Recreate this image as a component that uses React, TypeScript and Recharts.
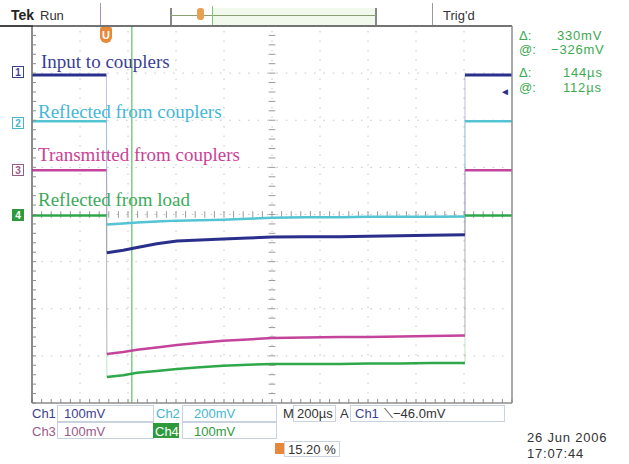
import React from "react";
import { LineChart, Line, XAxis, YAxis, ReferenceLine } from "recharts";

// time in screen divisions (200 µs/div), level in vertical divisions
const stepOn = 1.55;
const stepOff = 9.02;
const cursorT = 2.08;

const lowTimes = [1.56, 1.9, 2.19, 2.6, 3.02, 3.5, 3.98, 4.5, 5.0, 5.7, 6.42, 7.0, 7.67, 8.3, 9.02];

const ch1High = 2.96;
const ch1Low = [-0.81, -0.76, -0.7, -0.62, -0.56, -0.54, -0.52, -0.5, -0.48, -0.47, -0.47, -0.46, -0.45, -0.44, -0.43];
const ch2High = 1.98;
const ch2Low = [-0.21, -0.19, -0.17, -0.15, -0.13, -0.12, -0.11, -0.09, -0.07, -0.06, -0.06, -0.05, -0.05, -0.05, -0.04];
const ch3High = 0.94;
const ch3Low = [-2.96, -2.92, -2.87, -2.82, -2.77, -2.72, -2.68, -2.65, -2.62, -2.61, -2.6, -2.6, -2.59, -2.58, -2.57];
const ch4High = -0.02;
const ch4Low = [-3.45, -3.41, -3.36, -3.32, -3.28, -3.24, -3.21, -3.19, -3.17, -3.17, -3.17, -3.16, -3.16, -3.15, -3.15];

const majorX = [0, 1, 2, 3, 4, 5, 6, 7, 8, 9, 10];
const majorY = [-4, -3, -2, -1, 0, 1, 2, 3, 4];
const minorX = Array.from({ length: 51 }, (_, i) => +(i * 0.2).toFixed(1));
const minorY = Array.from({ length: 41 }, (_, i) => +(-4 + i * 0.2).toFixed(1));

const channels = [
  { id: "ch1", high: ch1High, low: ch1Low, color: "#2b2f8c", width: 3 },
  { id: "ch2", high: ch2High, low: ch2Low, color: "#52c4d4", width: 2.5 },
  { id: "ch3", high: ch3High, low: ch3Low, color: "#c4449c", width: 2.5 },
  { id: "ch4", high: ch4High, low: ch4Low, color: "#2fa84a", width: 2.5 },
];

const SANS = "'Liberation Sans', Arial, sans-serif";
const SERIF = "'Liberation Serif', 'Times New Roman', serif";
const GRID = "#c4c4c4";
const BORDER = "#8c8c8c";

function Txt({ x, y, color, size = 12, bold = false, font = SANS, spacing = 0, children }: any) {
  return (
    <div
      style={{
        position: "absolute",
        left: x,
        top: y,
        color,
        fontSize: size,
        fontWeight: bold ? "bold" : "normal",
        fontFamily: font,
        letterSpacing: spacing,
        whiteSpace: "nowrap",
        lineHeight: 1,
      }}
    >
      {children}
    </div>
  );
}

function Box({ x, y, w, h, border = "#c9d3e0", bg = "transparent" }: any) {
  return (
    <div
      style={{
        position: "absolute",
        left: x,
        top: y,
        width: w,
        height: h,
        border: `1px solid ${border}`,
        background: bg,
        boxSizing: "border-box",
      }}
    />
  );
}

function ChMark({ y, n, color, filled = false }: any) {
  return (
    <div
      style={{
        position: "absolute",
        left: 12,
        top: y - 6,
        width: 12,
        height: 12,
        border: `1px solid ${color}`,
        background: filled ? color : "#fff",
        color: filled ? "#fff" : color,
        fontFamily: SANS,
        fontSize: 10,
        fontWeight: "bold",
        lineHeight: "12px",
        textAlign: "center",
        boxSizing: "border-box",
      }}
    >
      {n}
    </div>
  );
}

const noTick = () => <g />;

export default function App() {
  return (
    <div style={{ position: "absolute", left: 0, top: 0, width: 629, height: 464, background: "#fff", overflow: "hidden" }}>
      <LineChart width={629} height={464} margin={{ top: 26, left: 32, right: 117, bottom: 61 }}>
        <XAxis
          type="number"
          dataKey="t"
          domain={[0, 10]}
          ticks={minorX}
          interval={0}
          mirror
          tickSize={4}
          tick={noTick}
          axisLine={{ stroke: BORDER, strokeWidth: 1.5 }}
          tickLine={{ stroke: BORDER }}
          allowDataOverflow
        />
        <XAxis
          xAxisId="top"
          orientation="top"
          type="number"
          domain={[0, 10]}
          ticks={minorX}
          interval={0}
          mirror
          tickSize={4}
          tick={noTick}
          axisLine={{ stroke: "#444", strokeWidth: 1.5 }}
          tickLine={{ stroke: BORDER }}
        />
        <YAxis
          type="number"
          domain={[-4, 4]}
          ticks={minorY}
          interval={0}
          mirror
          tickSize={4}
          tick={noTick}
          axisLine={{ stroke: "#666", strokeWidth: 1.5 }}
          tickLine={{ stroke: BORDER }}
          allowDataOverflow
        />
        <YAxis
          yAxisId="r"
          orientation="right"
          type="number"
          domain={[-4, 4]}
          ticks={minorY}
          interval={0}
          mirror
          tickSize={4}
          tick={noTick}
          axisLine={{ stroke: BORDER, strokeWidth: 1.5 }}
          tickLine={{ stroke: BORDER }}
        />

        {majorX.slice(1, -1).map((x) => (
          <ReferenceLine key={`gx${x}`} x={x} stroke={GRID} strokeDasharray="1.5 8" />
        ))}
        {majorY.slice(1, -1).map((y) => (
          <ReferenceLine key={`gy${y}`} y={y} stroke={GRID} strokeDasharray="1.5 7.9" />
        ))}
        {minorX.slice(1, -1).map((x) => (
          <ReferenceLine
            key={`cx${x}`}
            segment={[{ x, y: -0.07 }, { x, y: 0.07 }]}
            stroke="#999"
          />
        ))}
        {minorY.slice(1, -1).map((y) => (
          <ReferenceLine
            key={`cy${y}`}
            segment={[{ x: 4.93, y }, { x: 5.07, y }]}
            stroke="#999"
          />
        ))}

        <ReferenceLine x={cursorT} stroke="#5cbf6a" strokeWidth={1.2} />

        {channels.map((c) => (
          <Line
            key={`${c.id}-e1`}
            data={[
              { t: stepOn, v: c.high },
              { t: lowTimes[0], v: c.low[0] },
            ]}
            dataKey="v"
            stroke={c.color}
            strokeOpacity={0.3}
            strokeWidth={1}
            dot={false}
            isAnimationActive={false}
          />
        ))}
        {channels.map((c) => (
          <Line
            key={`${c.id}-e2`}
            data={[
              { t: stepOff, v: c.low[c.low.length - 1] },
              { t: stepOff, v: c.high },
            ]}
            dataKey="v"
            stroke={c.color}
            strokeOpacity={0.3}
            strokeWidth={1}
            dot={false}
            isAnimationActive={false}
          />
        ))}
        {channels.map((c) => (
          <Line
            key={`${c.id}-pre`}
            data={[
              { t: 0, v: c.high },
              { t: stepOn, v: c.high },
            ]}
            dataKey="v"
            stroke={c.color}
            strokeWidth={c.width}
            dot={false}
            isAnimationActive={false}
          />
        ))}
        {channels.map((c) => (
          <Line
            key={`${c.id}-low`}
            data={lowTimes.map((t, i) => ({ t, v: c.low[i] }))}
            dataKey="v"
            stroke={c.color}
            strokeWidth={c.width}
            dot={false}
            isAnimationActive={false}
          />
        ))}
        {channels.map((c) => (
          <Line
            key={`${c.id}-post`}
            data={[
              { t: stepOff, v: c.high },
              { t: 10, v: c.high },
            ]}
            dataKey="v"
            stroke={c.color}
            strokeWidth={c.width}
            dot={false}
            isAnimationActive={false}
          />
        ))}
      </LineChart>

      {/* top status bar */}
      <div style={{ position: "absolute", left: 0, top: 25, width: 33, height: 1.5, background: "#444" }} />
      <Txt x={11} y={8} color="#222" size={14} bold>Tek</Txt>
      <Txt x={40} y={9} color="#333" size={13}>Run</Txt>
      <div style={{ position: "absolute", left: 100, top: 3, width: 1, height: 22, background: "#a890b0" }} />
      <div style={{ position: "absolute", left: 170, top: 8, width: 1.5, height: 17, background: "#888" }} />
      <div style={{ position: "absolute", left: 375, top: 8, width: 1.5, height: 17, background: "#888" }} />
      <div style={{ position: "absolute", left: 212, top: 8, width: 163, height: 17, background: "#f1f9ec" }} />
      <div style={{ position: "absolute", left: 170, top: 15, width: 206, height: 1, background: "#8aa070" }} />
      <div style={{ position: "absolute", left: 212, top: 6, width: 1, height: 19, background: "#7cc47e" }} />
      <div style={{ position: "absolute", left: 197, top: 8, width: 7, height: 12, borderRadius: 3, background: "#e8a050" }} />
      <div style={{ position: "absolute", left: 432, top: 3, width: 1, height: 22, background: "#999" }} />
      <Txt x={443} y={9} color="#333" size={13}>Trig'd</Txt>

      {/* trigger position marker */}
      <div style={{ position: "absolute", left: 100, top: 27, width: 12, height: 16, borderRadius: "2px 2px 6px 6px", background: "#e8893a" }} />
      <Txt x={102} y={30} color="#fff" size={11} bold>U</Txt>

      {/* channel ground markers */}
      <ChMark y={72} n="1" color="#3b4190" />
      <ChMark y={123} n="2" color="#45b6cc" />
      <ChMark y={170} n="3" color="#9a5a88" />
      <ChMark y={215} n="4" color="#2e9a3c" filled />

      {/* trace labels */}
      <Txt x={41} y={52} color="#3a3f96" size={19} font={SERIF}>Input to couplers</Txt>
      <Txt x={38} y={102} color="#44b7da" size={19} font={SERIF}>Reflected from couplers</Txt>
      <Txt x={38} y={145} color="#cc3f96" size={19} font={SERIF}>Transmitted from couplers</Txt>
      <Txt x={38} y={190} color="#3caa5a" size={19} font={SERIF}>Reflected from load</Txt>

      {/* cursor readouts */}
      <Txt x={519} y={29} color="#3caa50" size={13}>Δ:</Txt>
      <Txt x={557} y={29} color="#3caa50" size={13} spacing={0.8}>330mV</Txt>
      <Txt x={519} y={43} color="#3caa50" size={13}>@:</Txt>
      <Txt x={551} y={43} color="#3caa50" size={13} spacing={0.8}>−326mV</Txt>
      <Txt x={519} y={66} color="#3caa50" size={13}>Δ:</Txt>
      <Txt x={563} y={66} color="#3caa50" size={13} spacing={0.8}>144µs</Txt>
      <Txt x={519} y={81} color="#3caa50" size={13}>@:</Txt>
      <Txt x={563} y={81} color="#3caa50" size={13} spacing={0.8}>112µs</Txt>
      <Txt x={500} y={87} color="#2b2f8c" size={10}>◄</Txt>

      {/* bottom settings */}
      <Box x={57} y={405} w={97} h={17} />
      <Box x={182} y={405} w={95} h={17} />
      <Box x={293} y={405} w={43} h={17} />
      <Box x={350} y={405} w={155} h={17} />
      <Box x={57} y={422} w={97} h={17} />
      <Box x={182} y={422} w={95} h={17} />
      <Box x={284} y={441} w={56} h={16} />
      <Txt x={32} y={407} color="#3b4190" size={13}>Ch1</Txt>
      <Txt x={64} y={407} color="#3b4190" size={13}>100mV</Txt>
      <Txt x={156} y={407} color="#45b6cc" size={13}>Ch2</Txt>
      <Txt x={194} y={407} color="#45b6cc" size={13}>200mV</Txt>
      <Txt x={283} y={407} color="#333" size={13}>M</Txt>
      <Txt x={297} y={407} color="#333" size={13}>200µs</Txt>
      <Txt x={340} y={407} color="#333" size={13}>A</Txt>
      <Txt x={355} y={407} color="#3b4190" size={13}>Ch1</Txt>
      <Txt x={384} y={407} color="#333" size={13}>⟍−46.0mV</Txt>
      <Txt x={32} y={425} color="#9a5a88" size={13}>Ch3</Txt>
      <Txt x={64} y={425} color="#9a5a88" size={13}>100mV</Txt>
      <div style={{ position: "absolute", left: 153, top: 423, width: 26, height: 15, background: "#2e9a3c" }} />
      <Txt x={155} y={425} color="#fff" size={13}>Ch4</Txt>
      <Txt x={194} y={425} color="#2e9a3c" size={13}>100mV</Txt>
      <div style={{ position: "absolute", left: 275, top: 443, width: 9, height: 11, background: "#e8893a" }} />
      <Txt x={288} y={443} color="#333" size={13}>15.20 %</Txt>
      <Txt x={527} y={431} color="#333" size={13} spacing={0.8}>26 Jun  2006</Txt>
      <Txt x={527} y={447} color="#333" size={13} spacing={0.8}>17:07:44</Txt>
    </div>
  );
}
